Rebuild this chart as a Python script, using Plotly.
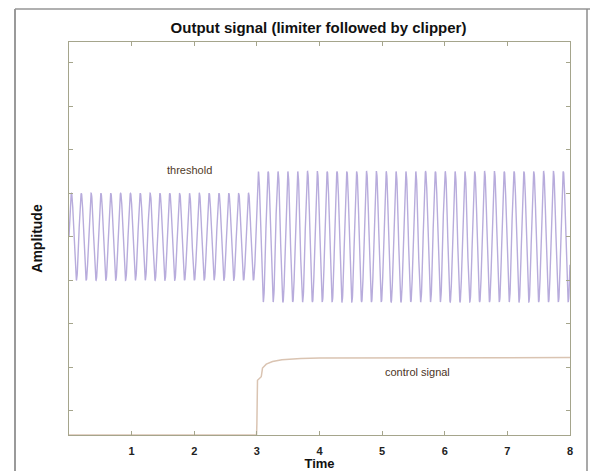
import numpy as np
import plotly.graph_objects as go

# ---- data ----
# output signal: sinusoid (40 rad/s) whose amplitude changes at t = 3
seg_start = [0.0, 3.0]
seg_end = [3.0, 8.0]
seg_amp = [1.0, 1.5]
omega = 40.0

# control signal
ctrl_t = [0.0, 2.995, 3.0, 3.01, 3.07, 3.09, 3.15, 3.25, 3.4, 3.7, 4.0, 5.0, 6.0, 7.0, 8.0]
ctrl_v = [-4.56, -4.56, -4.3, -3.3, -3.22, -3.02, -2.93, -2.87, -2.83, -2.80, -2.79, -2.785, -2.78, -2.78, -2.78]

x_ticks = [1, 2, 3, 4, 5, 6, 7, 8]
y_ticks = [-4, -3, -2, -1, 0, 1, 2, 3, 4]

# build the signal trace
sig_t, sig_v = [], []
for a, b, amp in zip(seg_start, seg_end, seg_amp):
    tt = np.linspace(a, b, int((b - a) * 400) + 1)
    sig_t.extend(tt.tolist())
    sig_v.extend((amp * np.sin(omega * tt)).tolist())

W, H = 598, 471
L, R, T, B = 69, 28, 42, 36
pw, ph = W - L - R, H - T - B

def px(x):
    return (x - L) / pw

def py(y):
    return (H - B - y) / ph

fig = go.Figure()
fig.add_trace(go.Scatter(x=sig_t, y=sig_v, mode="lines",
                         line=dict(color="rgb(184,172,220)", width=1.4),
                         hoverinfo="skip", showlegend=False))
fig.add_trace(go.Scatter(x=ctrl_t, y=ctrl_v, mode="lines",
                         line=dict(color="rgb(218,196,178)", width=1.5),
                         hoverinfo="skip", showlegend=False))

axis_col = "rgb(165,165,140)"
fig.update_xaxes(range=[0, 8], tickvals=x_ticks, ticktext=["<b>%d</b>" % v for v in x_ticks],
                 showgrid=False, zeroline=False, showline=True, linecolor=axis_col,
                 linewidth=1.2, mirror="ticks", ticks="inside", ticklen=4,
                 tickcolor=axis_col, ticklabelstandoff=6, automargin=False,
                 tickfont=dict(family="Liberation Sans", size=11, color="#222"),
                 title=dict(text="<b>Time</b>", font=dict(family="Liberation Sans", size=13, color="#111"),
                            standoff=2))
fig.update_yaxes(range=[-4.56, 4.48], tickvals=y_ticks, showticklabels=False,
                 showgrid=False, zeroline=False, showline=True, linecolor=axis_col,
                 linewidth=1.2, mirror="ticks", ticks="inside", ticklen=4,
                 tickcolor=axis_col, automargin=False,
                 title=dict(text="<b>Amplitude</b>", font=dict(family="Liberation Sans", size=14, color="#111"),
                            standoff=22))

fig.add_annotation(x=1.93, y=1.54, text="threshold", showarrow=False,
                   font=dict(family="Liberation Sans", size=11, color="rgb(80,58,40)"))
fig.add_annotation(x=5.57, y=-3.1, text="control signal", showarrow=False,
                   font=dict(family="Liberation Sans", size=11, color="rgb(75,52,38)"))

# outer frame of the scanned figure
fig.add_shape(type="line", xref="paper", yref="paper", x0=px(15), x1=px(15), y0=py(9), y1=py(471),
              line=dict(color="rgb(120,120,120)", width=1.5))
fig.add_shape(type="line", xref="paper", yref="paper", x0=px(15), x1=px(590), y0=py(9), y1=py(9),
              line=dict(color="rgb(150,150,150)", width=1.5))
fig.add_shape(type="line", xref="paper", yref="paper", x0=px(587), x1=px(587), y0=py(9), y1=py(471),
              line=dict(color="rgb(140,140,140)", width=1.5))

fig.update_layout(
    width=W, height=H,
    margin=dict(l=L, r=R, t=T, b=B),
    paper_bgcolor="white", plot_bgcolor="white",
    title=dict(text="<b>Output signal (limiter followed by clipper)</b>",
               xref="container", x=318.5 / W, xanchor="center",
               yref="container", y=1 - 28 / H, yanchor="middle",
               font=dict(family="Liberation Sans", size=15, color="#111")),
)

fig.write_html("out.html")
